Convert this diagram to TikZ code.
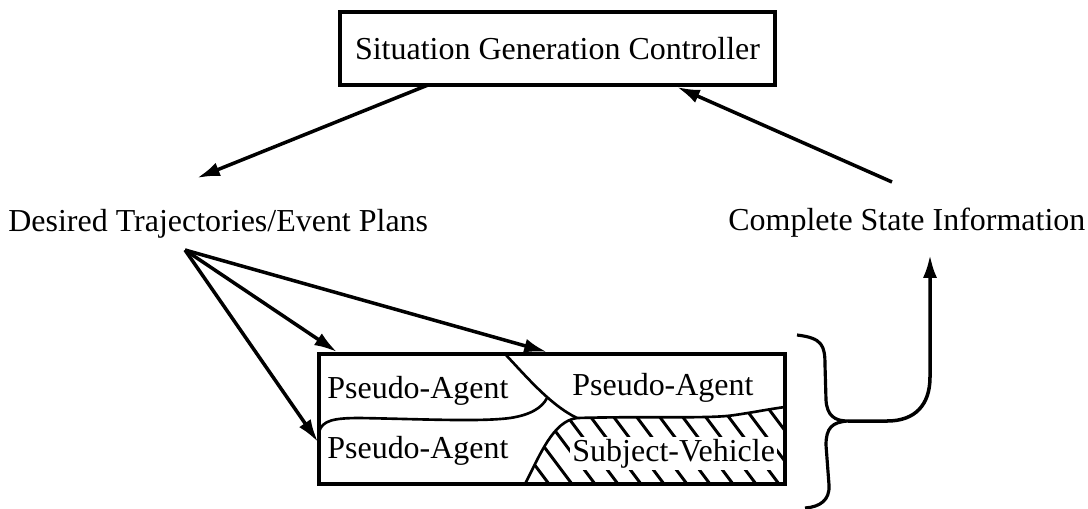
\documentclass[tikz,border=0pt]{standalone}
\usepackage{fontspec}
\setmainfont{Liberation Serif}
\usetikzlibrary{arrows.meta}

\tikzset{
  arr/.style={-{Latex[length=13pt,width=8pt]},line width=2pt},
  lbl/.style={inner sep=0pt,anchor=base west},
  part/.style={line width=1.5pt}
}

\begin{document}
\begin{tikzpicture}[x=0.02cm,y=-0.02cm,font=\fontsize{18.2}{22}\selectfont]
  \useasboundingbox (0,0) rectangle (1088,508);

  \node[draw,line width=2.1pt,minimum width=8.7cm,minimum height=1.46cm,inner sep=0pt] (ctrl) at (557.5,48.5) {Situation Generation Controller};
  \node[lbl] (plans) at (8,231) {Desired Trajectories/Event Plans};
  \node[lbl] (state) at (728,230) {Complete State Information};

  \coordinate (ctrlout) at (428,85);
  \coordinate (ctrlin) at (677,87);
  \coordinate (plansin) at (197,178);
  \coordinate (plansout) at (185,250);
  \coordinate (statein) at (930,255);
  \coordinate (stateout) at (892,182);
  \coordinate (brace) at (848,421);

  \draw[arr] (ctrlout) -- (plansin);
  \draw[arr] (stateout) -- (ctrlin);

  % hatched subject vehicle
  \begin{scope}
    \clip (525,484) .. controls (540,455) and (553,421) .. (577,418)
      .. controls (650,416) and (710,419) .. (735,415)
      .. controls (755,412) and (770,409) .. (785,407) -- (785,484) -- cycle;
    \foreach \i in {0,...,17}
      \draw[line width=1.7pt] ({440+23*\i},400) -- ++(66,88);
  \end{scope}
  \draw[part] (525,484) .. controls (540,455) and (553,421) .. (577,418)
    .. controls (650,416) and (710,419) .. (735,415)
    .. controls (755,412) and (770,409) .. (785,407);

  \draw[part] (505,354) .. controls (525,375) and (550,405) .. (577,418);
  \draw[part] (319,432) .. controls (322,420) and (335,418) .. (360,418)
    .. controls (420,419) and (480,422) .. (510,418)
    .. controls (530,415) and (542,408) .. (547,398);

  \node[draw,line width=1.8pt,minimum width=9.32cm,minimum height=2.6cm,inner sep=0pt] (agents) at (552,419) {};

  \node[lbl] (pa1) at (327,398) {Pseudo-Agent};
  \node[lbl] (pa2) at (572,395) {Pseudo-Agent};
  \node[lbl] (pa3) at (327,458) {Pseudo-Agent};
  \node[lbl,fill=white,inner sep=1.2pt] (subj) at (570,461) {Subject-Vehicle};

  \draw[arr] (plansout) -- (337,352);
  \draw[arr] (plansout) -- (547,352);
  \draw[arr] (plansout) -- (318,442);

  % brace and feedback
  \draw[line width=1.8pt] (797,335) .. controls (822,338) and (825,345) .. (825,365)
    -- (826,400) .. controls (827,416) and (835,421) .. (brace)
    .. controls (832,422) and (826,428) .. (826,445)
    -- (829,485) .. controls (830,500) and (820,507) .. (805,508);
  \draw[arr] (brace) -- (887,421) .. controls (915,421) and (930,405) .. (930,377) -- (statein);
\end{tikzpicture}
\end{document}
